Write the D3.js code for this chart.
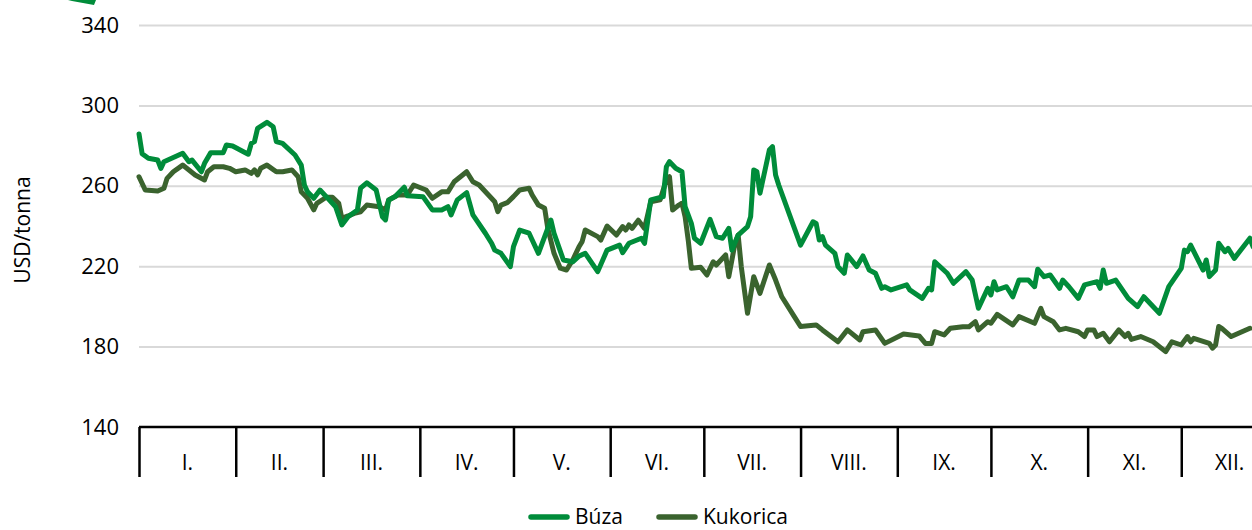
<!DOCTYPE html>
<html>
<head>
<meta charset="utf-8">
<script src="https://cdn.jsdelivr.net/npm/d3@7"></script>
<style>
  body { margin: 0; background: #fff; }
  text { font-family: "Open Sans", sans-serif; fill: #000; }
</style>
</head>
<body>
<div id="chart"></div>
<script>
    // month names and lengths (days) of the year
    var monthLabels = ["I.", "II.", "III.", "IV.", "V.", "VI.", "VII.", "VIII.", "IX.", "X.", "XI.", "XII."];
    var monthLengths = [31, 28, 31, 30, 31, 30, 31, 31, 30, 31, 30, 31];
    var yTicks = [140, 180, 220, 260, 300, 340];

    // Búza (wheat), day of year -> USD/tonna
    var buzaDays = [1, 2, 4, 7, 8, 9, 15, 17, 18, 21, 22, 24, 28, 29, 31, 36, 37, 38, 39, 42, 44, 45, 47, 51, 53, 54, 55, 57, 59, 61, 64, 66, 68, 71, 72,
        74, 77, 79, 80, 81, 83, 86, 87, 92, 95, 98, 100, 101, 103, 106, 108, 112, 114, 115, 117, 120, 121, 123, 126, 127, 129, 133, 134, 137, 140,
        142, 144, 148, 151, 155, 156, 158, 162, 163, 165, 169, 170, 171, 173, 175, 176, 178, 179, 181, 184, 186, 188, 190, 191, 193, 196, 197,
        198, 199, 200, 203, 204, 205, 206, 213, 217, 218, 219, 220, 221, 224, 225, 227, 228, 231, 233, 235, 237, 239, 240, 242, 247, 248, 252,
        254, 255, 256, 260, 262, 266, 268, 270, 273, 274, 275, 276, 279, 281, 283, 286, 288, 289, 291, 293, 296, 297, 299, 302, 304, 308, 309,
        310, 311, 314, 318, 321, 323, 328, 331, 335, 336, 337, 338, 342, 343, 344, 346, 347, 349, 350, 352, 357, 358];
    var buzaValues = [285.8, 276, 273.7, 272.8, 268.7, 272, 276.2, 272, 272.8, 267, 271.2, 276.5, 276.5, 280.3, 279.8, 275.7, 281.1, 282, 288.6, 291.6,
        289.4, 282, 281.1, 275.3, 270.3, 260.4, 257, 253.8, 257.9, 254.6, 249.6, 240.5, 244.6, 248, 258.8,
        261.5, 257.9, 244.6, 243, 252.9, 254.6, 259.3, 255, 254.6, 248, 248, 249.6, 245.5, 253, 256.6, 245.5, 236.4, 231.4, 228, 226.4, 219.8,
        229.7, 238, 236.4, 233, 226.4, 243, 236.4, 223.1, 222.2,
        225, 226.4, 217.3, 228, 230.5, 226.7, 231.4, 233.9, 231.4, 253, 254.6, 269.5, 272, 268.7, 267, 249.6, 241.3, 233.9, 231.4, 243.3, 234.7,
        233.9, 238.8, 228, 235.5, 239.7, 244.6,
        267.9, 267, 256.3, 277.8, 279.5, 265.4, 260.4, 230.5, 242.1, 241.3, 233, 234.7, 230.5, 226.4, 219.8, 216.5, 225.6, 219.8, 225.1, 218.1,
        216.5, 209, 209.8, 208.2, 210.7, 208.2, 204,
        209, 208.2, 222.2, 216.5, 211.5, 217.3, 213.1, 199.1, 209, 205.7, 212.3, 208.2, 209.8, 204.8, 213.1, 213.1, 209.8, 218.5, 214.8, 215.6,
        209, 213.1, 209.8, 204, 210.7, 212.3, 209,
        218.1, 211.5, 213.1, 204, 199.9, 204.8, 196.6, 209.8, 218.9, 228, 227.2, 230.5, 218.1, 223.1, 214.8, 218.1, 231.4, 227.2, 228.9, 223.9,
        233.9, 229.7];

    // Kukorica (maize), day of year -> USD/tonna
    var kukoricaDays = [1, 3, 7, 9, 10, 12, 15, 17, 19, 22, 23, 25, 28, 30, 32, 35, 37, 38, 39, 40, 42, 45, 47, 50, 52, 53, 55, 57, 58, 61, 63, 65,
        66, 68, 70, 72, 74, 78, 80, 81, 84, 87, 89, 93, 95, 98, 100, 102, 106, 108, 110, 115, 116, 117, 119, 121, 123, 126, 127, 129, 131, 132,
        134, 136, 138, 140, 142, 143, 144, 148, 149, 151, 154, 156, 157, 158, 159, 161, 163, 165, 168, 170, 171, 172, 174, 175, 176, 177, 178,
        181, 183, 185, 186, 189, 190, 192, 193, 194, 196, 198, 200, 203, 205, 207, 211, 213, 218, 220, 225, 228, 232, 233, 237, 240, 246, 251,
        253, 255, 256, 259, 261, 265, 267, 269, 270, 273, 274, 276, 281, 283, 288, 290, 291, 294, 296, 298, 302, 304, 305, 307, 308, 310, 312,
        315, 317, 318, 319, 322, 326, 330, 332, 335, 337, 338, 339, 344, 345, 346, 347, 348, 351, 357];
    var kukoricaValues = [264.5, 257.9, 257.4, 258.8, 263.7, 267, 270.3, 267.9, 265.4, 262.9, 267, 269.5, 269.5, 268.7, 267, 267.9, 266.2, 267.9,
        265.4, 268.7, 270.3, 267, 267, 267.9, 264.5, 257, 253.8, 248, 251.3, 254.3, 254.3, 251.3,
        243.8, 245, 246.3, 247.1, 250.4, 249.6, 248, 252.9, 255.4, 255.4, 260.4, 257.9, 253.8, 257, 257, 262, 267, 262, 260.4, 252.1, 247.1,
        250.4, 251.6, 254.6, 257.9, 258.8, 255.4, 250.4, 248.8, 238.8,
        226.4, 219, 218.1, 223.1, 229.7, 232.2, 238, 234.7, 233, 240, 235.5, 239.7, 238, 240.5, 238.8, 242.9, 238.8, 252.1, 253, 262.9, 264.5,
        248, 250.4, 251.3, 244.6, 233, 219,
        219.5, 215.6, 222.2, 220.6, 225.6, 214.8, 231.4, 235.5, 219.8, 196.6, 214.8, 206.5, 220.6, 213.1, 204.8, 194.9, 190, 190.8, 188.3, 182.4,
        188.3, 183.3, 187.4, 188.3, 181.6, 186.3, 185.3,
        181.6, 181.6, 187.4, 185.8, 189.1, 189.9, 189.9, 192.4, 188.3, 192.4, 191.6, 196, 190.8, 194.9, 191.6, 199, 194.9, 192.4, 188.3, 189.1,
        187.4, 185, 188.3, 188.3, 185, 186.6, 182.4,
        188.3, 185, 186.6, 183.6, 185, 182.4, 177.5, 182.4, 180.8, 185, 182.4, 184.1, 181.6, 179.2, 180.8, 190, 189.1, 185, 189.1];

    var width = 1252,
        height = 530;
    var plot = { left: 139, right: 1278, top: 25, bottom: 427 };

    var svg = d3.select("#chart")
        .append("svg")
        .attr("width", width)
        .attr("height", height);

    // x: day of year (1..366 -> full year), y: price
    var x = d3.scaleLinear()
        .domain([1, 366])
        .range([plot.left, plot.right]);

    var y = d3.scaleLinear()
        .domain([140, 340])
        .range([plot.bottom, plot.top]);

    // horizontal grid
    svg.append("g")
        .attr("transform", "translate(" + plot.left + ",0)")
        .call(d3.axisLeft(y).tickValues(yTicks.slice(1)).tickSize(-(width - plot.left)).tickFormat(""))
        .call(function(g) { g.select(".domain").remove(); })
        .selectAll("line")
        .attr("stroke", "#d9d9d9")
        .attr("stroke-width", 2);

    // y tick labels
    svg.append("g")
        .attr("transform", "translate(119,0)")
        .call(d3.axisLeft(y).tickValues(yTicks).tickSize(0).tickPadding(0))
        .call(function(g) { g.select(".domain").remove(); })
        .selectAll("text")
        .style("font-size", "22px")
        .style("font-family", "'Open Sans', sans-serif")
        .attr("fill", "#000");

    // y axis title
    svg.append("text")
        .attr("transform", "translate(30,230) rotate(-90)")
        .attr("text-anchor", "middle")
        .style("font-size", "21px")
        .text("USD/tonna");

    // month boundaries
    var monthStarts = [1];
    monthLengths.forEach(function(d, i) { monthStarts.push(monthStarts[i] + d); });

    svg.append("g")
        .attr("transform", "translate(0," + plot.bottom + ")")
        .call(d3.axisBottom(x).tickValues(monthStarts).tickSize(50).tickFormat("").tickSizeOuter(0))
        .call(function(g) {
            g.select(".domain").attr("stroke", "#000").attr("stroke-width", 2.5).attr("d", "M" + plot.left + ",0H" + plot.right);
            g.selectAll("line").attr("stroke", "#000").attr("stroke-width", 2.5);
        });

    // month labels in the middle of each month
    svg.append("g")
        .selectAll("text")
        .data(monthLabels)
        .enter()
        .append("text")
        .attr("x", function(d, i) { return x((monthStarts[i] + monthStarts[i + 1]) / 2); })
        .attr("y", 470)
        .attr("text-anchor", "middle")
        .style("font-size", "21px")
        .text(function(d) { return d; });

    var line = d3.line()
        .x(function(d) { return x(d[0]); })
        .y(function(d) { return y(d[1]); });

    var series = [
        { name: "Búza", color: "#008c3a", days: buzaDays, values: buzaValues },
        { name: "Kukorica", color: "#3a632e", days: kukoricaDays, values: kukoricaValues }
    ];

    // Kukorica is drawn first, Búza on top
    series.slice().reverse().forEach(function(s) {
        svg.append("path")
            .datum(d3.zip(s.days, s.values))
            .attr("fill", "none")
            .attr("stroke", s.color)
            .attr("stroke-width", 5)
            .attr("stroke-linejoin", "round")
            .attr("stroke-linecap", "round")
            .attr("d", line);
    });

    // legend
    var legendX = [531, 659];
    var legend = svg.append("g")
        .selectAll("g")
        .data(series)
        .enter()
        .append("g")
        .attr("transform", function(d, i) { return "translate(" + legendX[i] + ",517)"; });

    legend.append("line")
        .attr("x1", 0)
        .attr("x2", 36)
        .attr("stroke", function(d) { return d.color; })
        .attr("stroke-width", 5.5)
        .attr("stroke-linecap", "round");

    legend.append("text")
        .attr("x", 44)
        .attr("y", 7)
        .style("font-size", "21px")
        .text(function(d) { return d.name; });

    // cut-off green mark in the top-left corner
    svg.append("polygon")
        .attr("points", "68,0 96,0 94,5 72,1")
        .attr("fill", "#008c3a");
</script>
</body>
</html>
